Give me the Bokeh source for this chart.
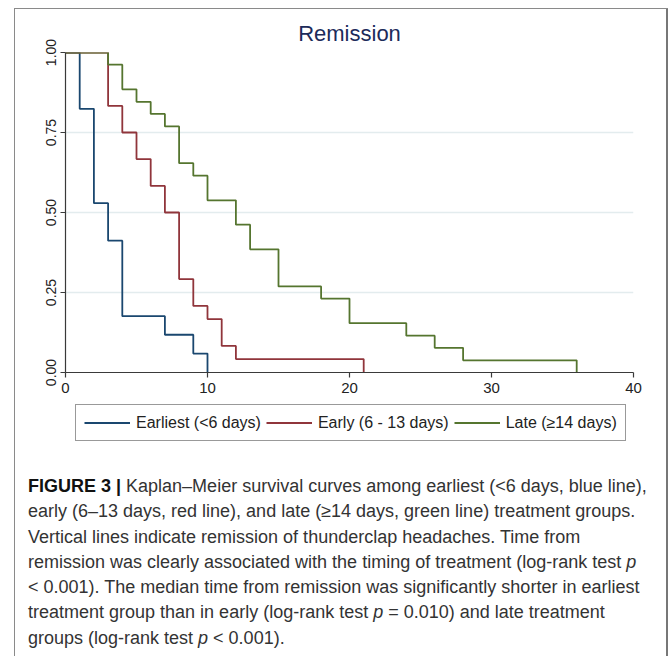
from bokeh.plotting import figure
from bokeh.models import (Range1d, FixedTicker, PrintfTickFormatter, Legend,
                          LegendItem, Div, Title)
from bokeh.layouts import column
from bokeh.embed import file_html
from bokeh.resources import INLINE

# ---- data ----
earliest_days = [0, 1, 2, 3, 4, 7, 9, 10]
earliest_surv = [1.0, 0.824, 0.529, 0.412, 0.176, 0.118, 0.059, 0.0]
early_days = [0, 3, 4, 5, 6, 7, 8, 9, 10, 11, 12, 21]
early_surv = [1.0, 0.833, 0.75, 0.667, 0.583, 0.5, 0.292, 0.208, 0.167, 0.083, 0.042, 0.0]
late_days = [0, 3, 4, 5, 6, 7, 8, 9, 10, 12, 13, 15, 18, 20, 24, 26, 28, 36]
late_surv = [1.0, 0.962, 0.885, 0.846, 0.808, 0.769, 0.654, 0.615, 0.538, 0.462,
             0.385, 0.269, 0.231, 0.154, 0.115, 0.077, 0.038, 0.0]
series_labels = ["Earliest (<6 days)", "Early (6 - 13 days)", "Late (\u226514 days)"]
series_colors = ["#1a476f", "#90353b", "#55752f"]
x_ticks = [0, 10, 20, 30, 40]
y_ticks = [0, 0.25, 0.5, 0.75, 1.0]
title_text = "Remission"
series = list(zip([earliest_days, early_days, late_days],
                  [earliest_surv, early_surv, late_surv], series_colors))

CW = 669  # the page template has no body margin: layout starts at (0, 0)

# ---------------- main chart ----------------
H = 402
FL, FR, FT, FB = 65, 36, 48, 30

p = figure(width=CW, height=H, output_backend="svg", toolbar_location=None,
           title=None, x_range=Range1d(0, 40), y_range=Range1d(0, 1),
           min_border_left=FL, min_border_right=FR,
           min_border_top=FT, min_border_bottom=FB)
p.frame_align = False
p.outline_line_color = None
p.background_fill_color = "white"
p.border_fill_color = None

# title nearest the frame, then a spacer above it
p.add_layout(Title(text=title_text, align="center", text_font="Liberation Sans",
                   text_font_size="22px", text_font_style="normal",
                   text_color="#1c2b5a", standoff=14), "above")
p.add_layout(Title(text=" ", text_font_size="1px", standoff=8), "above")

p.xgrid.visible = False
p.ygrid.ticker = FixedTicker(ticks=y_ticks)
p.ygrid.grid_line_color = "#e3ecee"
p.ygrid.grid_line_width = 1.5

for ax in (p.xaxis[0], p.yaxis[0]):
    ax.axis_line_color = "#3a3a3a"
    ax.axis_line_width = 1.2
    ax.major_tick_line_color = "#3a3a3a"
    ax.major_tick_line_width = 1.2
    ax.major_tick_out = 5
    ax.major_tick_in = 0
    ax.minor_tick_line_color = None
    ax.major_label_text_color = "#222222"
    ax.major_label_text_font = "Liberation Sans"
    ax.major_label_standoff = 5
p.xaxis.ticker = FixedTicker(ticks=x_ticks)
p.yaxis.ticker = FixedTicker(ticks=y_ticks)
p.yaxis.formatter = PrintfTickFormatter(format="%.2f")
p.yaxis.major_label_orientation = "vertical"
p.xaxis.major_label_text_font_size = "15px"
p.yaxis.major_label_text_font_size = "14px"

for xs, ys, c in series:
    p.step(xs, ys, mode="after", line_color=c, line_width=1.8)

# ---------------- legend strip ----------------
LH = 46
lf = figure(width=CW, height=LH, output_backend="svg", toolbar_location=None,
            title=None, x_range=Range1d(0, 40), y_range=Range1d(2, 3),
            x_axis_type=None, y_axis_type=None,
            min_border=0, min_border_left=0, min_border_right=0,
            min_border_top=0, min_border_bottom=0)
lf.frame_align = False
lf.outline_line_color = None
lf.grid.visible = False
lf.background_fill_color = None
lf.border_fill_color = None
leg_renderers = [lf.step(xs, ys, mode="after", line_color=c, line_width=1.8)
                 for xs, ys, c in series]
legend = Legend(items=[LegendItem(label=lab, renderers=[r])
                       for lab, r in zip(series_labels, leg_renderers)],
                orientation="horizontal", location=(75, 7),
                glyph_width=46, glyph_height=19, label_height=19,
                label_standoff=6, spacing=5, padding=8, margin=0,
                label_text_font="Liberation Sans", label_text_font_size="16px",
                label_text_color="#222222",
                border_line_color="#333333", border_line_width=1,
                background_fill_color="white", background_fill_alpha=1)
lf.add_layout(legend)

# ---------------- caption ----------------
CH = 208
caption_html = (
    f'<div style="position:relative;width:{CW}px;height:{CH}px;">'
    '<div style="position:absolute;left:28px;top:26px;'
    "font-family:'Liberation Sans',sans-serif;font-size:18px;line-height:25.3px;"
    'color:#333;white-space:nowrap;">'
    '<b style="color:#111">FIGURE 3 |</b> Kaplan\u2013Meier survival curves among earliest (&lt;6 days, blue line),<br>'
    'early (6\u201313 days, red line), and late (\u226514 days, green line) treatment groups.<br>'
    'Vertical lines indicate remission of thunderclap headaches. Time from<br>'
    'remission was clearly associated with the timing of treatment (log-rank test <i>p</i><br>'
    '&lt; 0.001). The median time from remission was significantly shorter in earliest<br>'
    'treatment group than in early (log-rank test <i>p</i> = 0.010) and late treatment<br>'
    'groups (log-rank test <i>p</i> &lt; 0.001).'
    '</div></div>'
)
cap = Div(text=caption_html, width=CW, height=CH, margin=0)

# outer frame of the figure panel: lines painted as the column's background
frame_bg = ("linear-gradient(#8a8a8a,#8a8a8a) 14px 8px / 1px 100% no-repeat, "
            "linear-gradient(#8a8a8a,#8a8a8a) 14px 8px / 654px 1px no-repeat, "
            "linear-gradient(#777777,#777777) 666px 8px / 2px 100% no-repeat, "
            "#ffffff")
layout = column(p, lf, cap, spacing=0, width=CW,
                styles={"background": frame_bg})

open("out.html", "w").write(file_html(layout, INLINE))
